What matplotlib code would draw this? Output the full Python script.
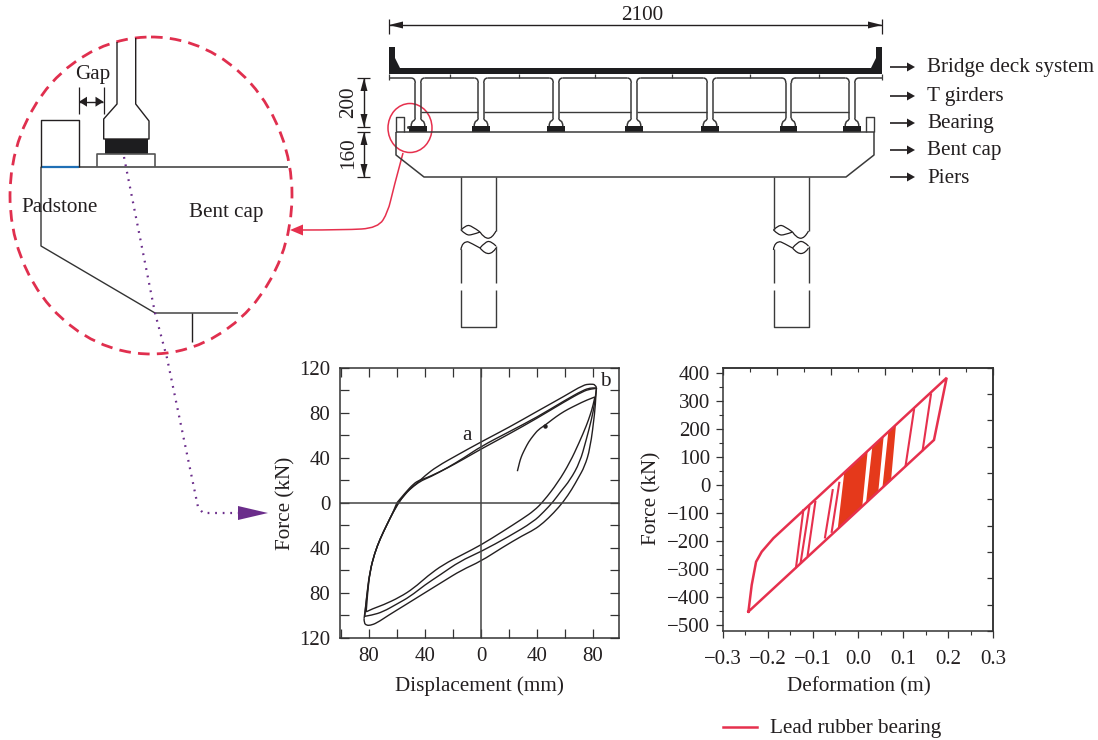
import numpy as np
import matplotlib
matplotlib.use("Agg")
import matplotlib.pyplot as plt
from matplotlib.patches import Ellipse, Polygon, Rectangle, PathPatch
from matplotlib.path import Path

W, H = 1098, 740
INK = "#231f20"
RED = "#e6304d"
plt.rcParams["font.family"] = ["Liberation Serif", "DejaVu Serif"]
plt.rcParams["axes.unicode_minus"] = True
FS = 15.2
TS = 15.0

# ---- hysteresis test data (left chart) ----
initial_x = [26, 27, 28, 29.5, 31.5, 34, 37.6, 41, 45.9, 51, 56.6, 62, 68.5, 75, 81.4]
initial_y = [28, 33, 38, 43, 48, 54, 60, 65, 69, 74, 79, 83, 87, 91, 94]
inner_low_x = [81.4, 80, 78, 75.5, 70, 63.6, 55, 44.5, 38, 30, 15, 0, -13, -27, -38, -48, -58, -70, -77, -82]
inner_low_y = [94, 86, 78, 69, 53, 36, 18, 1, -7, -14, -26, -37.6, -46, -55, -65, -76, -84, -91, -94, -97]
rise_x = [-82, -81, -79.3, -76, -72, -67, -62.6, -59]
rise_y = [-97, -80, -61, -45, -32, -19, -8, 0]
upper_in_x = [-59, -54, -48, -42, -36, -24, -12, 0, 20, 40, 60, 73, 78, 82, 82.5]
upper_in_y = [0, 8, 15, 20, 23, 31, 40, 50, 63, 76, 91, 100, 102, 102, 102]
mid_low_x = [82.5, 81.5, 79, 75, 70.7, 63.6, 57, 51.7, 45, 37.4, 20, 0, -15, -29, -40, -50.7, -60, -70, -78, -83]
mid_low_y = [102, 90, 74, 55, 36, 20, 10, 1, -8, -17, -30, -43.5, -52, -64, -73, -83.5, -90, -97, -100, -101]
rise2_x = [-83, -81.5, -79.3, -76, -72, -67, -62.6, -60]
rise2_y = [-101, -80, -61, -45, -32, -19, -8, 0]
upper_mid_x = [-60, -54, -48, -44, -39, -32, -24.5, -12, 0, 20, 40, 60, 73, 78, 82]
upper_mid_y = [0, 9, 17, 20, 22, 26, 30.5, 39, 47.7, 61, 75, 90, 99, 101, 101.6]
rise3_x = [-83.5, -83, -81.7, -79.3, -76, -72, -67, -62.6, -56.7, -52, -46, -40, -31.7, -16, 0, 20, 39.8, 60, 73, 78, 82, 82.5]
rise3_y = [-103, -98, -85, -61, -45, -32, -19, -8, 4, 11, 17, 24, 32, 43, 54, 67, 81, 95, 104.6, 105.5, 105, 102]
outer_low_x = [82.5, 82, 81.4, 78, 74, 69.5, 65, 59, 52, 44.5, 38, 30, 15, 0, -14, -27, -40, -55.5, -66, -74.5, -79, -81.7, -83.5, -83.5]
outer_low_y = [102, 94, 81, 48, 32, 22, 12, 1, -9, -18, -24, -29, -40, -52, -60, -70, -80, -92, -100, -107, -109, -109, -107, -103]
branches = [(initial_x, initial_y), (inner_low_x, inner_low_y), (rise_x, rise_y), (upper_in_x, upper_in_y),
            (mid_low_x, mid_low_y), (rise2_x, rise2_y), (upper_mid_x, upper_mid_y),
            (rise3_x, rise3_y), (outer_low_x, outer_low_y)]
disp_ticks = [-80, -40, 0, 40, 80]
disp_labels = ["80", "40", "0", "40", "80"]
force_ticks = [-120, -80, -40, 0, 40, 80, 120]
force_labels = ["120", "80", "40", "0", "40", "80", "120"]

# ---- bearing hysteresis (right chart) ----
env_x = [-0.243, -0.2357, -0.226, -0.2135, -0.1877, 0.1966, 0.1685, -0.243]
env_y = [-452, -357, -274, -238, -190, 383, 161, -452]
cycle_low_x = [-0.1374, -0.1271, -0.1116, -0.0732, -0.0583, 0.1057, 0.1434]
cycle_low_y = [-293, -276, -250, -187, -167, 71, 125]
cycle_up_x = [-0.1212, -0.1079, -0.0946, -0.0561, -0.0415, 0.1241, 0.1618]
cycle_up_y = [-90, -77, -60, -18, 8, 268, 324]
block1_x = [-0.045, 0.0095, 0.0215, -0.0304]
block1_y = [-157, -76, 122, 46]
block2_x = [0.0177, 0.045, 0.057, 0.0317]
block2_y = [-65, -24, 175, 137]
block3_x = [0.0539, 0.0732, 0.0843, 0.0672]
block3_y = [-13, 16, 215, 190]

# ---- annotations ----
web_centres = [418, 481, 556, 634, 710, 788.6, 852]
connector_x = [450, 519, 595, 672, 750, 819]
part_names = ["Bridge deck system", "T girders", "Bearing", "Bent cap", "Piers"]
part_text_y = [67.5, 96.5, 123.5, 150.5, 178.5]
part_arrow_y = [67, 96, 123, 150, 177]

fig = plt.figure(figsize=(W / 100, H / 100), dpi=100)
fig.patch.set_facecolor("white")


def add_axes_px(l, t, r, b):
    return fig.add_axes([l / W, 1 - b / H, (r - l) / W, (b - t) / H])


ov = fig.add_axes([0, 0, 1, 1], zorder=5)
ov.set_xlim(0, W)
ov.set_ylim(H, 0)
ov.axis("off")
ov.patch.set_alpha(0)


def smooth_path(pts):
    verts = [pts[0]]
    codes = [Path.MOVETO]
    if len(pts) == 2:
        return Path(pts, [Path.MOVETO, Path.LINETO])
    for i in range(1, len(pts) - 1):
        if i == len(pts) - 2:
            end = pts[-1]
        else:
            end = ((pts[i][0] + pts[i + 1][0]) / 2, (pts[i][1] + pts[i + 1][1]) / 2)
        verts += [pts[i], end]
        codes += [Path.CURVE3, Path.CURVE3]
    return Path(verts, codes)


# ---------- left chart ----------
a1 = add_axes_px(340, 367.7, 619, 637.7)
a1.set_xlim(-100.7, 98.6)
a1.set_ylim(-120, 120)
for bx, by in branches:
    a1.add_patch(PathPatch(smooth_path(list(zip(bx, by))), fc="none", ec=INK, lw=1.0))
a1.plot([45.5], [68.5], marker="o", ms=2.2, color=INK)
a1.axhline(0, color="#444444", lw=1.1)
a1.axvline(0, color="#444444", lw=1.1)
a1.set_xticks(disp_ticks, disp_labels)
a1.set_yticks(force_ticks, force_labels)
a1.set_xticks(np.arange(-100, 81, 20), minor=True)
a1.set_yticks(np.arange(-120, 121, 20), minor=True)
a1.tick_params(which="both", direction="in", top=True, right=True, length=6.5, width=0.9,
               color="#333333", labelsize=TS, labelcolor=INK)
a1.tick_params(axis="x", which="major", pad=7)
a1.tick_params(axis="y", which="major", pad=7)
for s in a1.spines.values():
    s.set_linewidth(1.1)
    s.set_color("#333333")
a1.set_xlabel("Displacement (mm)", fontsize=FS, color=INK)
a1.set_ylabel("Force (kN)", fontsize=FS, color=INK)
a1.xaxis.set_label_coords(479, 686, transform=ov.transData)
a1.yaxis.set_label_coords(286, 503, transform=ov.transData)
a1.xaxis.label.set_verticalalignment("center")
a1.yaxis.label.set_verticalalignment("center")
ov.text(467, 435, "a", fontsize=FS, color=INK, ha="center", va="center")
ov.text(605, 382, "b", fontsize=FS, color=INK, ha="center", va="center")

# ---------- right chart ----------
a2 = add_axes_px(722.7, 367.7, 993.3, 631)
a2.set_xlim(-0.3, 0.3)
a2.set_ylim(-521, 419)
for bx, by in [(block1_x, block1_y), (block2_x, block2_y), (block3_x, block3_y)]:
    a2.fill(bx, by, color="#e5391b", lw=0)
for i in range(len(cycle_low_x)):
    a2.plot([cycle_low_x[i], cycle_up_x[i]], [cycle_low_y[i], cycle_up_y[i]], color=RED, lw=1.5)
a2.plot(env_x, env_y, color=RED, lw=1.8, solid_joinstyle="miter")
a2.set_xticks(np.arange(-0.3, 0.31, 0.1))
a2.set_xticklabels(["\u22120.3", "\u22120.2", "\u22120.1", "0.0", "0.1", "0.2", "0.3"])
a2.set_xticks(np.arange(-0.3, 0.31, 0.05), minor=True)
a2.set_yticks(np.arange(-500, 401, 100))
a2.set_yticklabels(["\u2212500", "\u2212400", "\u2212300", "\u2212200", "\u2212100", "0", "100", "200", "300", "400"])
a2.set_yticks(np.arange(-500, 401, 50), minor=True)
a2.tick_params(which="major", direction="out", length=5, width=0.9, color="#333333",
               labelsize=TS, labelcolor=INK)
a2.tick_params(axis="x", which="major", pad=9)
a2.tick_params(axis="y", which="major", pad=4)
a2.tick_params(which="minor", direction="out", length=3, width=0.8, color="#333333")
sec_y = a2.secondary_yaxis("right")
sec_y.set_yticks(np.linspace(-521, 419, 11))
sec_y.tick_params(direction="in", length=4, width=0.9, labelright=False, color="#333333")
sec_x = a2.secondary_xaxis("top")
sec_x.set_xticks(np.linspace(-0.3, 0.3, 6))
sec_x.set_xticks(np.linspace(-0.3, 0.3, 11), minor=True)
sec_x.tick_params(which="major", direction="in", length=5, width=0.9, labeltop=False, color="#333333")
sec_x.tick_params(which="minor", direction="in", length=3, width=0.8, color="#333333")
for s in list(a2.spines.values()) + list(sec_y.spines.values()) + list(sec_x.spines.values()):
    s.set_linewidth(1.1)
    s.set_color("#333333")
a2.set_xlabel("Deformation (m)", fontsize=FS, color=INK)
a2.set_ylabel("Force (kN)", fontsize=FS, color=INK)
a2.xaxis.set_label_coords(859, 687, transform=ov.transData)
a2.yaxis.set_label_coords(652, 498, transform=ov.transData)
a2.xaxis.label.set_verticalalignment("center")
a2.yaxis.label.set_verticalalignment("center")
ov.plot([723, 757], [727, 727], color=RED, lw=1.8)
ov.text(770, 728, "Lead rubber bearing", fontsize=FS, color=INK, ha="left", va="center")


# ---------- drawing helpers ----------
def ln(xs, ys, c=INK, w=1.0, **k):
    ov.plot(xs, ys, color=c, lw=w, solid_capstyle="butt", **k)


def arrowhead(tipx, tipy, dx, dy, L=8, hw=3, c=INK):
    px, py = -dy, dx
    ov.add_patch(Polygon([(tipx, tipy), (tipx - dx * L + px * hw, tipy - dy * L + py * hw),
                          (tipx - dx * L - px * hw, tipy - dy * L - py * hw)], closed=True,
                         fc=c, ec="none", zorder=6))


def curve(pts, c=INK, w=1.0):
    ov.add_patch(PathPatch(smooth_path(pts), fc="none", ec=c, lw=w))


GREY = "#3a3a3a"

# ---------- bridge elevation ----------
ln([389, 389], [19, 34], w=0.9)
ln([882, 882], [19, 34], w=0.9)
ln([389, 882], [25, 25], w=1.0)
arrowhead(389, 25, -1, 0, L=14, hw=3.5)
arrowhead(882, 25, 1, 0, L=14, hw=3.5)
ov.text(642, 15, "2100", fontsize=FS, color=INK, ha="center", va="center")

ov.add_patch(Polygon([(389, 47), (395, 47), (395, 58), (400, 68), (871, 68), (876, 58), (876, 47),
                      (882, 47), (882, 74), (389, 74)], closed=True, fc="#1d1d1f", ec="none"))
ln([389, 389], [74, 80], c=GREY, w=0.9)
ln([882, 882], [74, 80], c=GREY, w=0.9)
for x in connector_x:
    ln([x, x], [74, 78], c=GREY, w=0.9)

for cx in web_centres:
    lx, rx = cx - 2.8, cx + 2.8
    curve([(lx, 118), (lx, 120), (cx - 6.8, 122), (cx - 6.8, 126)], c=GREY, w=1.1)
    curve([(rx, 118), (rx, 120), (cx + 6.8, 122), (cx + 6.8, 126)], c=GREY, w=1.1)
    ov.add_patch(Rectangle((cx - 8.6, 126), 17.2, 6, fc="#1d1d1f", ec="none"))

first, last = web_centres[0], web_centres[-1]
ln([389, first - 7], [78, 78], c=GREY, w=1.1)
curve([(first - 7, 78), (first - 2.8, 78), (first - 2.8, 83)], c=GREY, w=1.1)
ln([first - 2.8, first - 2.8], [83, 118], c=GREY, w=1.1)
ln([last + 7, 882], [78, 78], c=GREY, w=1.1)
curve([(last + 7, 78), (last + 2.8, 78), (last + 2.8, 83)], c=GREY, w=1.1)
ln([last + 2.8, last + 2.8], [83, 118], c=GREY, w=1.1)
for a, b in zip(web_centres[:-1], web_centres[1:]):
    l, r = a + 2.8, b - 2.8
    ln([l, l], [83, 118], c=GREY, w=1.1)
    ln([r, r], [83, 118], c=GREY, w=1.1)
    curve([(l, 83), (l, 78), (l + 4, 78)], c=GREY, w=1.1)
    curve([(r, 83), (r, 78), (r - 4, 78)], c=GREY, w=1.1)
    ln([l + 4, r - 4], [78, 78], c=GREY, w=1.1)
    ln([l, r], [111.7, 111.7], c=GREY, w=1.0)
ov.plot([407.7], [126.7], marker="s", ms=1.0, color=GREY)

ln([396, 396, 424, 846, 874, 874, 396], [132, 155, 177, 177, 155, 132, 132], c=GREY, w=1.1)
ln([396, 396, 403.5, 403.5], [132, 117, 117, 132], c=GREY, w=1.0)
ln([866, 866, 874, 874], [132, 117, 117, 132], c=GREY, w=1.0)

for left in [461, 773.5]:
    right = left + 35
    ln([left, left], [177, 230], c=GREY, w=1.0)
    ln([right, right], [177, 231], c=GREY, w=1.0)
    curve([(left, 230), (left + 5, 225), (left + 11, 226), (left + 19, 232)], w=0.9)
    curve([(left, 230), (left + 5, 235), (left + 11, 235), (left + 19, 232)], w=0.9)
    curve([(left + 19, 232), (left + 23, 238), (left + 31, 238.5), (right, 231)], w=0.9)
    curve([(left, 250), (left, 246), (left + 5, 241), (left + 10, 243), (left + 19, 248)], w=0.9)
    curve([(left + 19, 248), (left + 24, 254), (left + 32, 253), (right, 248)], w=0.9)
    curve([(left + 19, 248), (left + 24, 242), (left + 30, 241), (right, 246)], w=0.9)
    ln([left, left], [249, 283], c=GREY, w=1.0)
    ln([right, right], [246, 283], c=GREY, w=1.0)
    ln([left, left, right, right], [290, 327, 327, 290], c=GREY, w=1.0)

ln([357, 370], [78, 78], w=0.9)
ln([357, 370], [127, 127], w=0.9)
ln([357, 370], [132, 132], w=0.9)
ln([357, 370], [177, 177], w=0.9)
ln([364, 364], [78, 127], w=1.0)
ln([364, 364], [132, 177], w=1.0)
for (y, d) in [(78, -1), (127, 1), (132, -1), (177, 1)]:
    arrowhead(364, y, 0, d, L=13, hw=3.5)
ov.text(349, 102, "200", fontsize=FS, color=INK, rotation=90, ha="center", va="center")
ov.text(349, 153, "160", fontsize=FS, color=INK, rotation=90, ha="center", va="center")

for name, ty, ay in zip(part_names, part_text_y, part_arrow_y):
    ln([890, 912], [ay, ay], w=1.2)
    arrowhead(915, ay, 1, 0, L=8, hw=4.5)
    ov.text(927, ty, name, fontsize=FS, color=INK, ha="left", va="center")

# red detail circle and leader
ov.add_patch(Ellipse((410, 128), 44, 49, fc="none", ec=RED, lw=1.1))
curve([(403, 153), (393, 190), (388, 212), (378, 228), (345, 230), (302, 230)], c=RED, w=1.1)
arrowhead(290, 230, -1, 0, L=13, hw=5.5, c=RED)

# ---------- enlarged detail ----------
ov.add_patch(Ellipse((151, 195.5), 282, 317, fc="none", ec="#e02f4e", lw=2.0, ls=(0, (4.2, 2.6))))
ln([117, 117, 103.7, 103.7, 149, 149, 135.7, 135.7], [42, 104, 119, 139, 139, 121, 104, 38], w=1.0)
ov.add_patch(Rectangle((105, 139), 43, 14.5, fc="#1d1d1f", ec="none"))
ln([97, 97, 155, 155], [167, 153.5, 153.5, 167], c="#555555", w=1.2)
ln([41, 288], [166.7, 166.7], c="#555555", w=1.3)
ln([41, 78.7], [166.7, 166.7], c="#1f6fb5", w=1.6)
ln([41, 41, 78.7, 78.7], [166.7, 120, 120, 166.7], w=1.0)
ln([41, 41, 155, 238], [166.7, 246, 313, 313], c="#333333", w=1.0)
ln([191.7, 191.7], [313, 342], w=1.0)
ln([78.7, 78.7], [87, 114], w=0.9)
ln([103.7, 103.7], [87, 114], w=0.9)
ln([79, 103], [101.7, 101.7], w=1.0)
arrowhead(79, 101.7, -1, 0, L=8, hw=5)
arrowhead(103.5, 101.7, 1, 0, L=8, hw=5)
ov.text(93, 74, "Gap", fontsize=FS, color=INK, ha="center", va="center")
ov.text(21, 207, "Padstone", fontsize=FS, color=INK, ha="left", va="center")
ov.text(189, 213, "Bent cap", fontsize=FS, color=INK, ha="left", va="center")

ov.plot([124, 155, 167, 198, 203, 238], [157, 313, 358, 507, 513, 513],
        color="#6b2d8b", lw=1.6, ls=(0, (0.8, 2.6)))
arrowhead(268, 513, 1, 0, L=30, hw=7, c="#6b2d8b")

fig.savefig("out.png", dpi=100)
